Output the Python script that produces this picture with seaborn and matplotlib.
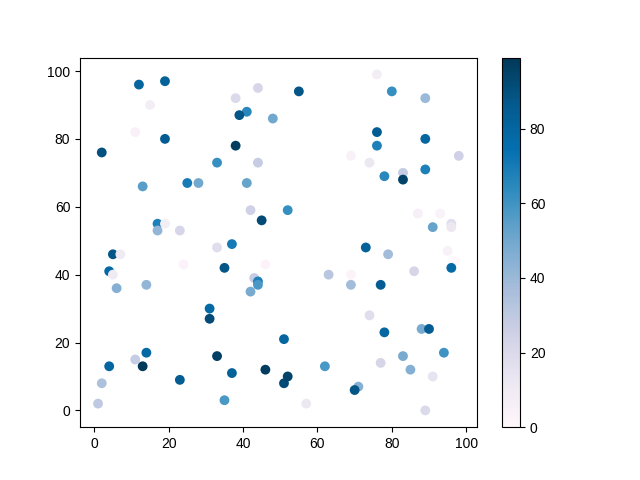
import numpy as np
import pandas as pd
import seaborn as sns
import matplotlib
matplotlib.use('Agg')
import matplotlib.pyplot as plt

plt.rcParams['font.family'] = ['Liberation Sans', 'DejaVu Sans']

# values: x, y and colour value for each point
x_vals = [12, 19, 15, 44, 38, 41, 39, 48, 11, 19, 2, 38, 33, 44, 13, 25, 28, 41, 42, 45,
          17, 19, 17, 23, 37,
          76, 55, 80, 89, 76, 89, 76, 69, 74, 98, 89, 78, 83, 83, 52, 87, 93, 96, 96, 91,
          5, 7, 33, 24, 46, 4, 5, 35, 43, 44, 44, 42, 6, 14, 31, 31, 51, 4, 11, 14,
          13, 33, 23, 37, 46, 2, 1, 35, 51,
          73, 79, 95, 97, 96, 63, 69, 86, 69, 77, 74, 78, 88, 90, 94, 62, 83, 77, 85, 91,
          52, 71, 70, 57, 89]
y_vals = [96, 97, 90, 95, 92, 88, 87, 86, 82, 80, 76, 78, 73, 73, 66, 67, 67, 67, 59, 56,
          55, 55, 53, 53, 49,
          99, 94, 94, 92, 82, 80, 78, 75, 73, 75, 71, 69, 70, 68, 59, 58, 58, 55, 54, 54,
          46, 46, 48, 43, 43, 41, 40, 42, 39, 38, 37, 35, 36, 37, 30, 27, 21, 13, 15, 17,
          13, 16, 9, 11, 12, 8, 2, 3, 8,
          48, 46, 47, 44, 42, 40, 40, 41, 37, 37, 28, 23, 24, 24, 17, 13, 16, 14, 12, 10,
          10, 7, 6, 2, 0]
c_vals = [80, 82, 8, 22, 20, 65, 88, 50, 5, 85, 90, 97, 62, 28, 55, 70, 50, 52, 25, 92,
          68, 8, 42, 22, 70,
          8, 88, 62, 40, 85, 80, 68, 5, 12, 25, 68, 65, 28, 95, 62, 6, 4, 18, 12, 52,
          88, 10, 18, 3, 3, 78, 10, 88, 28, 68, 58, 48, 45, 42, 78, 92, 80, 80, 28, 78,
          99, 96, 85, 82, 97, 35, 30, 58, 92,
          82, 38, 5, 0, 78, 32, 3, 22, 38, 85, 18, 80, 48, 85, 60, 58, 48, 22, 45, 15,
          95, 45, 88, 12, 20]

df = pd.DataFrame({'x': x_vals, 'y': y_vals, 'c': c_vals})

fig, ax = plt.subplots(figsize=(6.4, 4.8), dpi=100)
norm = plt.Normalize(min(c_vals), max(c_vals))
sns.scatterplot(data=df, x='x', y='y', hue='c', palette='PuBu', hue_norm=norm,
                s=50, linewidth=0, legend=False, ax=ax)
ax.set_xlabel('')
ax.set_ylabel('')

sm = plt.cm.ScalarMappable(cmap='PuBu', norm=norm)
sm.set_array([])
fig.colorbar(sm, ax=ax)

plt.savefig('out.png', dpi=100)
plt.close()
